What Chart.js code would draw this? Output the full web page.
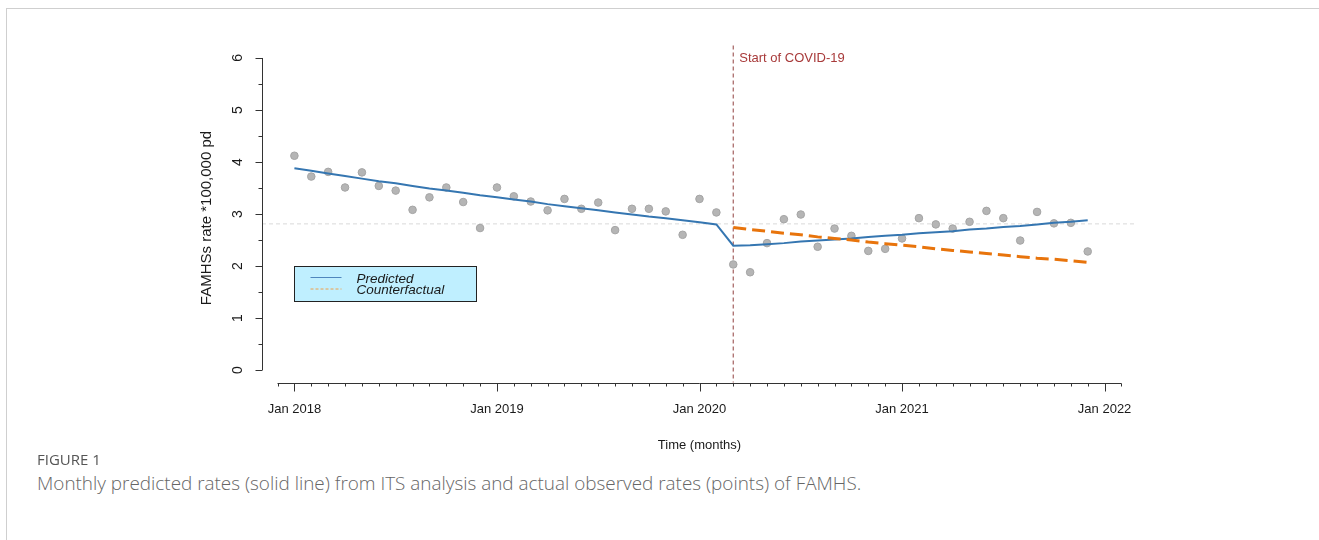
<!DOCTYPE html>
<html>
<head>
<meta charset="utf-8">
<script src="https://cdn.jsdelivr.net/npm/chart.js@4.4.1/dist/chart.umd.min.js"></script>
<style>
    html, body { margin: 0; padding: 0; background: #fff; }
    body { width: 1319px; height: 540px; position: relative; overflow: hidden; }
    .frame { position: absolute; left: 6px; top: 8px; width: 1400px; height: 600px;
             border-top: 1.5px solid #cfcfcf; border-left: 1.5px solid #cfcfcf; }
    #wrap { position: absolute; left: 0; top: 0; width: 1319px; height: 460px; }
    .fig { position: absolute; left: 37px; top: 449px; font-family: "Open Sans", sans-serif;
           font-size: 15px; color: #555; }
    .cap { position: absolute; left: 37px; top: 470px; font-family: "Open Sans", sans-serif;
           font-size: 18.9px; color: #666; font-weight: 300; }
</style>
</head>
<body>
<div class="frame"></div>
<div id="wrap"><canvas id="chart" width="1319" height="460"></canvas></div>
<div class="fig">FIGURE 1</div>
<div class="cap">Monthly predicted rates (solid line) from ITS analysis and actual observed rates (points) of FAMHS.</div>
<script>
// month index 0 = Jan 2018 ... 47 = Dec 2021
const observed = [
    4.12, 3.72, 3.81, 3.51, 3.80, 3.54, 3.45, 3.08, 3.32, 3.51, 3.23, 2.73,
    3.51, 3.34, 3.24, 3.07, 3.29, 3.10, 3.22, 2.69, 3.10, 3.10, 3.05, 2.60,
    3.29, 3.03, 2.03, 1.88, 2.44, 2.90, 2.99, 2.37, 2.72, 2.58, 2.29, 2.33,
    2.53, 2.92, 2.80, 2.72, 2.85, 3.06, 2.92, 2.49, 3.04, 2.82, 2.83, 2.28
];
const predicted = [
    3.88, 3.83, 3.78, 3.73, 3.68, 3.63, 3.59, 3.54, 3.49, 3.45, 3.41, 3.36,
    3.32, 3.28, 3.24, 3.19, 3.15, 3.11, 3.07, 3.03, 2.99, 2.95, 2.92, 2.88,
    2.84, 2.80, 2.39, 2.40, 2.42, 2.44, 2.47, 2.49, 2.51, 2.53, 2.56, 2.58,
    2.60, 2.63, 2.65, 2.67, 2.70, 2.72, 2.75, 2.77, 2.80, 2.83, 2.85, 2.88
];
const counterfactual = [
    null, null, null, null, null, null, null, null, null, null, null, null,
    null, null, null, null, null, null, null, null, null, null, null, null,
    null, null, 2.74, 2.70, 2.67, 2.63, 2.60, 2.56, 2.53, 2.50, 2.46, 2.43,
    2.40, 2.37, 2.33, 2.30, 2.27, 2.24, 2.21, 2.18, 2.15, 2.13, 2.10, 2.07
];
const xTickPositions = [0, 12, 24, 36, 48];
const xTickLabels = ['Jan 2018', 'Jan 2019', 'Jan 2020', 'Jan 2021', 'Jan 2022'];
const yTicks = [0, 1, 2, 3, 4, 5, 6];
const interventionMonth = 26;
const referenceRate = 2.81;
const legendAnchor = { x: 0, y: 2 };

const FONT = '"Liberation Sans", Arial, sans-serif';
const BLUE = '#3576b1';
const ORANGE = '#e8740c';

const toPoints = arr => arr.map((v, i) => ({ x: i, y: v }));

const refLines = {
    id: 'refLines',
    beforeDatasetsDraw(chart) {
        const { ctx, chartArea: a, scales: { x, y } } = chart;
        ctx.save();
        ctx.lineWidth = 1;
        ctx.strokeStyle = '#d9d9d9';
        ctx.setLineDash([4, 3]);
        const yr = y.getPixelForValue(referenceRate);
        ctx.beginPath();
        ctx.moveTo(a.left, yr);
        ctx.lineTo(a.right, yr);
        ctx.stroke();

        const xv = x.getPixelForValue(interventionMonth);
        ctx.strokeStyle = '#a3605f';
        ctx.lineWidth = 1.2;
        ctx.setLineDash([4, 3]);
        ctx.beginPath();
        ctx.moveTo(xv, a.top);
        ctx.lineTo(xv, a.bottom);
        ctx.stroke();
        ctx.setLineDash([]);
        ctx.fillStyle = '#a83a3a';
        ctx.font = '13px ' + FONT;
        ctx.textAlign = 'left';
        ctx.textBaseline = 'middle';
        ctx.fillText('Start of COVID-19', xv + 6, y.getPixelForValue(6));
        ctx.restore();
    }
};

const rAxes = {
    id: 'rAxes',
    afterDraw(chart) {
        const { ctx, chartArea: a, scales: { x, y } } = chart;
        ctx.save();
        ctx.strokeStyle = '#333';
        ctx.fillStyle = '#1a1a1a';
        ctx.lineWidth = 1;
        ctx.setLineDash([]);

        // y axis
        const xl = Math.round(a.left) + 0.5;
        ctx.beginPath();
        ctx.moveTo(xl, y.getPixelForValue(yTicks[0]));
        ctx.lineTo(xl, y.getPixelForValue(yTicks[yTicks.length - 1]));
        for (let v = yTicks[0]; v <= yTicks[yTicks.length - 1]; v += 0.5) {
            const py = Math.round(y.getPixelForValue(v)) + 0.5;
            ctx.moveTo(xl, py);
            ctx.lineTo(xl - (v % 1 === 0 ? 7 : 4), py);
        }
        ctx.stroke();
        ctx.font = '14px ' + FONT;
        ctx.textAlign = 'center';
        ctx.textBaseline = 'middle';
        yTicks.forEach(v => {
            ctx.save();
            ctx.translate(a.left - 24, y.getPixelForValue(v));
            ctx.rotate(-Math.PI / 2);
            ctx.fillText(String(v), 0, 0);
            ctx.restore();
        });
        ctx.save();
        ctx.font = '15px ' + FONT;
        ctx.translate(a.left - 55, (a.top + a.bottom) / 2 + 4);
        ctx.rotate(-Math.PI / 2);
        ctx.fillText('FAMHSs rate *100,000 pd', 0, 0);
        ctx.restore();

        // x axis
        ctx.font = '13px ' + FONT;
        const yb = Math.round(a.bottom) + 0.5;
        const first = xTickPositions[0] - 1, last = xTickPositions[xTickPositions.length - 1] + 1;
        ctx.beginPath();
        ctx.moveTo(x.getPixelForValue(first), yb);
        ctx.lineTo(x.getPixelForValue(last), yb);
        for (let m = first; m <= last; m++) {
            const px = Math.round(x.getPixelForValue(m)) + 0.5;
            ctx.moveTo(px, yb);
            ctx.lineTo(px, yb + (xTickPositions.includes(m) ? 8 : 3));
        }
        ctx.stroke();
        xTickPositions.forEach((m, i) => {
            ctx.fillText(xTickLabels[i], x.getPixelForValue(m), a.bottom + 27);
        });
        ctx.fillText('Time (months)', (a.left + a.right) / 2, a.bottom + 63);
        ctx.restore();
    }
};

const legendBox = {
    id: 'legendBox',
    afterDraw(chart) {
        const { ctx, scales: { x, y } } = chart;
        const lx = Math.round(x.getPixelForValue(legendAnchor.x)) + 0.5;
        const ly = Math.round(y.getPixelForValue(legendAnchor.y)) + 0.5;
        const w = 182, h = 35;
        ctx.save();
        ctx.fillStyle = '#bfefff';
        ctx.fillRect(lx, ly, w, h);
        ctx.strokeStyle = '#222';
        ctx.lineWidth = 1;
        ctx.strokeRect(lx, ly, w, h);
        const items = [
            { label: 'Predicted', color: '#4f86bd', dash: [] },
            { label: 'Counterfactual', color: '#f0a04a', dash: [3, 2] }
        ];
        ctx.font = 'italic 13.5px ' + FONT;
        ctx.textAlign = 'left';
        ctx.textBaseline = 'middle';
        items.forEach((it, i) => {
            const ty = ly + 12.5 + i * 11.5;
            ctx.strokeStyle = it.color;
            ctx.setLineDash(it.dash);
            ctx.beginPath();
            ctx.moveTo(lx + 16, ty - 1.5);
            ctx.lineTo(lx + 47, ty - 1.5);
            ctx.stroke();
            ctx.setLineDash([]);
            ctx.fillStyle = '#1a1a1a';
            ctx.fillText(it.label, lx + 62, ty);
        });
        ctx.restore();
    }
};

new Chart(document.getElementById('chart').getContext('2d'), {
    type: 'line',
    data: {
        datasets: [{
            label: 'Counterfactual',
            data: toPoints(counterfactual),
            borderColor: ORANGE,
            borderWidth: 3,
            borderDash: [13, 6],
            pointRadius: 0,
            fill: false,
            tension: 0
        }, {
            label: 'Predicted',
            data: toPoints(predicted),
            borderColor: BLUE,
            borderWidth: 2,
            pointRadius: 0,
            fill: false,
            tension: 0
        }, {
            type: 'scatter',
            label: 'Observed',
            data: toPoints(observed),
            backgroundColor: '#b5b5b5',
            borderColor: '#a5a5a5',
            borderWidth: 1,
            pointRadius: 3.8
        }]
    },
    options: {
        responsive: false,
        animation: false,
        events: [],
        layout: { padding: { left: 262, right: 182, top: 45.5, bottom: 77.5 } },
        scales: {
            x: { type: 'linear', min: -1.92, max: 49.92, display: false },
            y: { type: 'linear', min: -0.24, max: 6.24, display: false }
        },
        plugins: {
            legend: { display: false },
            tooltip: { enabled: false }
        }
    },
    plugins: [refLines, rAxes, legendBox]
});
</script>
</body>
</html>
